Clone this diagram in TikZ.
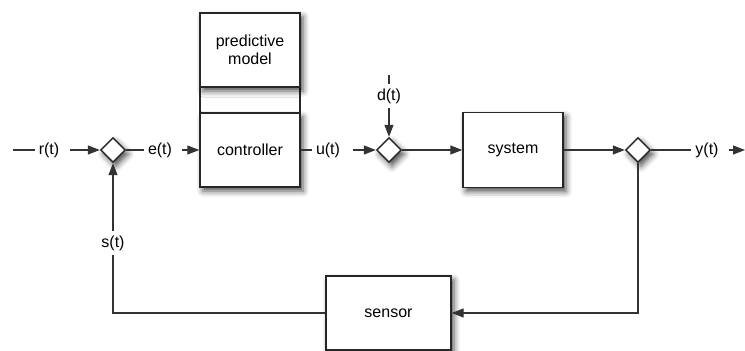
\documentclass[tikz,border=0pt]{standalone}
\usepackage{fontspec}
\setmainfont{Liberation Sans}
\usetikzlibrary{shapes.geometric,arrows.meta,shadows.blur}
\begin{document}
\begin{tikzpicture}[x=1pt,y=-1pt,
  font=\fontsize{16}{18.5}\selectfont,
  shade/.style={blur shadow={shadow xshift=3pt,shadow yshift=-4pt,
      shadow blur radius=6pt,shadow opacity=70}},
  block/.style={draw=black!85,line width=1.4pt,fill=white,rectangle,inner sep=0pt,
      minimum height=74pt,align=center,shade},
  junction/.style={draw=black!85,line width=1.4pt,fill=white,diamond,aspect=1,
      inner sep=0pt,minimum size=25pt,shade},
  lbl/.style={inner sep=4pt},
  sig/.style={line width=1.2pt,draw=black!80},
  arr/.style={sig,-{Triangle[length=12pt,width=9pt]}}]
\useasboundingbox (0,0) rectangle (745,351);
% strip joining the model to the controller
\node[draw=black!85,line width=1.2pt,fill=white,minimum width=100pt,minimum height=30pt,
  inner sep=0pt] (strip) at (250,98) {};
% blocks
\node[block,minimum width=100pt] (model) at (250,50) {predictive\\model};
\node[block,minimum width=100pt] (ctrl) at (250,150) {controller};
\node[block,minimum width=100pt,minimum height=75pt] (sys) at (513,150) {system};
\node[block,minimum width=125pt] (sensor) at (388.5,313) {sensor};
% summing junctions
\node[junction] (j1) at (113,150) {};
\node[junction] (j2) at (389,150) {};
\node[junction] (j3) at (638,150) {};
% signal labels
\node[lbl] (r) at (49,150) {r(t)};
\node[lbl] (e) at (160,150) {e(t)};
\node[lbl] (u) at (328,150) {u(t)};
\node[lbl] (d) at (389,96) {d(t)};
\node[lbl] (y) at (707,150) {y(t)};
\node[lbl] (s) at (113,243) {s(t)};
\coordinate (rin) at (13,150);
\coordinate (dtop) at (389,75);
\coordinate (yout) at (745,150);
% connectors
\draw[sig] (rin) -- (r.west);
\draw[arr] ([xshift=7pt]r.east) -- (j1.west);
\draw[sig] (j1.east) -- (e.west);
\draw[arr] ([xshift=6pt]e.east) -- (ctrl.west);
\draw[sig] (ctrl.east) -- (u.west);
\draw[arr] ([xshift=9pt]u.east) -- (j2.west);
\draw[sig] (dtop) -- (d.north);
\draw[arr] (d.south) -- (j2.north);
\draw[arr] (j2.east) -- (sys.west);
\draw[arr] (sys.east) -- (j3.west);
\draw[sig] (j3.east) -- (y.west);
\draw[arr] ([xshift=6pt]y.east) -- (yout);
\draw[arr] (j3.south) |- (sensor.east);
\draw[sig] (sensor.west) -| (s.south);
\draw[arr] (s.north) -- (j1.south);
\end{tikzpicture}
\end{document}
